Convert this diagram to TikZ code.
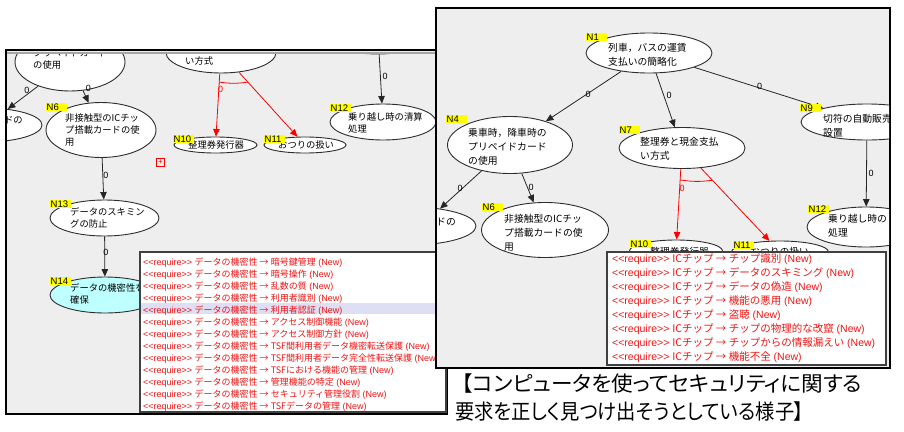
\documentclass[tikz,border=0pt]{standalone}
\usepackage{fontspec}
\setmainfont{Noto Sans CJK JP}
\newfontfamily\jp{Noto Sans CJK JP}
\newfontfamily\jpp{Noto Sans CJK JP}[RawFeature=+palt]
\newfontfamily\lat{Liberation Sans}
\usetikzlibrary{shapes.geometric,arrows.meta,calc}
\definecolor{panelbg}{RGB}{238,238,238}
\definecolor{reqred}{RGB}{240,20,20}
\definecolor{hilite}{RGB}{222,222,245}
\definecolor{cyanfill}{RGB}{190,255,255}
\definecolor{ylw}{RGB}{255,255,0}
\definecolor{edgegray}{RGB}{45,45,45}
\newcommand\reqtag{<{}<require>{}>}
\newcommand\lrowtext[1]{\reqtag{} {\jp データの機密性 → #1} (New)}
\newcommand\rrowtext[1]{\reqtag{} {\jp ICチップ → #1} (New)}
\tikzset{
 nd/.style={ellipse, draw=edgegray, line width=0.9pt, fill=white, inner sep=0pt},
 ntxtL/.style={anchor=west, align=left, inner sep=0pt, font=\fontsize{9.3}{12}\jp},
 ntxtR/.style={anchor=west, align=left, inner sep=0pt, font=\fontsize{9.8}{14}\jp},
 ylab/.style={anchor=north west, fill=ylw, inner xsep=0.5pt, inner ysep=0pt, text width=20pt, align=left, text height=7pt, text depth=0.8pt, font=\fontsize{9.5}{9.5}\lat},
 edge/.style={draw=black!85, line width=0.8pt, -{Triangle[length=7.5pt,width=6.5pt]}},
 redge/.style={draw=red, line width=0.8pt, -{Triangle[length=7.5pt,width=6.5pt]}},
 zl/.style={font=\fontsize{9}{9}\lat, inner sep=0pt},
 lrow/.style={anchor=base west, inner sep=0pt, text=reqred, font=\fontsize{9}{12}\lat},
 rrow/.style={anchor=base west, inner sep=0pt, text=reqred, font=\fontsize{10.5}{14}\lat},
 panel/.style={draw=black, line width=1.2pt, fill=panelbg},
 listbox/.style={draw=black!75, line width=1.2pt, fill=white},
 captxt/.style={anchor=base west, inner sep=0pt, font=\fontsize{21}{21}\jpp},
}
\begin{document}
\begin{tikzpicture}[x=1pt,y=-1pt]
\useasboundingbox[fill=white] (0,0) rectangle (904,431);

% ================= LEFT PANEL =================
\path[panel] (6,50) rectangle (447,414);
\begin{scope}
\clip (7,54) rectangle (446,413);
\node[nd, minimum width=110pt, minimum height=58pt] (l4) at (70,62) {};
\node[ntxtL] (tl4) at (33,53) {乗車時，降車時の\\プリペイドカード\\の使用};
\node[nd, minimum width=110pt, minimum height=40pt] (lt) at (378,34) {};
\node[nd, minimum width=110pt, minimum height=41pt] (l7) at (221,52.5) {};
\node[ntxtL] (tl7) at (185,55) {整理券と現金支払\\い方式};
\node[nd, minimum width=114pt, minimum height=34pt] (l5) at (-15,125) {};
\node[ntxtL, anchor=east] (tl5) at (23,120) {ドの};
\node[nd, minimum width=110pt, minimum height=55pt] (l6) at (101,130) {};
\node[ntxtL] (tl6) at (65,130) {非接触型のICチッ\\プ搭載カードの使\\用};
\node[nd, minimum width=83pt, minimum height=16pt] (l10) at (215.5,145) {};
\node[ntxtL] (tl10) at (188,145) {整理券発行器};
\node[nd, minimum width=82pt, minimum height=16pt] (l11) at (305,145) {};
\node[ntxtL] (tl11) at (278,145) {おつりの扱い};
\node[nd, minimum width=106pt, minimum height=36pt] (l12) at (383,122) {};
\node[ntxtL] (tl12) at (348,123) {乗り越し時の清算\\処理};
\node[nd, minimum width=109pt, minimum height=36pt] (l13) at (104.5,218) {};
\node[ntxtL] (tl13) at (70,217.5) {データのスキミン\\グの防止};
\node[nd, fill=cyanfill, minimum width=110pt, minimum height=36pt] (l14) at (105,295) {};
\node[ntxtL] (tl14) at (70,294) {データの機密性を\\確保};
% edges
\draw[edge] (l4) -- (l5.35);
\draw[edge] (l4) -- (l6);
\draw[edge] (lt) -- (l12);
\draw[redge] (l7) -- (l10);
\draw[redge] (l7) -- (l11);
\draw[red, line width=0.8pt] ($(l7)!0.32!(l10)$) to[bend right=8] ($(l7)!0.32!(l11)$);
\draw[edge] (l6) -- (l13);
\draw[edge] (l13) -- (l14);
% edge labels
\node[zl] (zl1) at (27,90) {0};
\node[zl] (zl2) at (88.5,88.5) {0};
\node[zl] (zl3) at (385,76) {0};
\node[zl, text=red] (zl4) at (220.5,89.5) {0};
\node[zl] (zl5) at (106,175) {0};
\node[zl] (zl6) at (106,252) {0};
% yellow labels
\node[ylab] (yl6) at (46,103) {N6};
\node[ylab] (yl10) at (173,135) {N10};
\node[ylab] (yl11) at (264,135) {N11};
\node[ylab] (yl12) at (330,104) {N12};
\node[ylab] (yl13) at (50,200) {N13};
\node[ylab] (yl14) at (50,277) {N14};
\node[draw=red, line width=0.6pt, minimum size=8pt, inner sep=0pt, text=red, font=\fontsize{8}{8}\lat] (plus) at (160.5,162.5) {+};
\end{scope}
\draw[gray!70, line width=1.5pt] (7,53) -- (446,53);
% left list
\path[listbox] (140,252) rectangle (446,412);
\fill[hilite] (141,303) rectangle (445,314);
\begin{scope}
\clip (141,253) rectangle (445,411);
\foreach \t [count=\i] in {暗号鍵管理,暗号操作,乱数の質,利用者識別,利用者認証,アクセス制御機能,アクセス制御方針,TSF間利用者データ機密転送保護,TSF間利用者データ完全性転送保護,TSFにおける機能の管理,管理機能の特定,セキュリティ管理役割,TSFデータの管理}
  \node[lrow] (lr\i) at (143,{265.4+12*(\i-1)}) {\lrowtext{\t}};
\end{scope}

% ================= RIGHT PANEL =================
\path[panel] (436,8) rectangle (890,368);
\begin{scope}
\clip (437,9.5) rectangle (889,367);
\node[nd, minimum width=126pt, minimum height=40pt] (n1) at (649,53) {};
\node[ntxtR] (tn1) at (608,54.5) {列車，バスの運賃\\支払いの簡略化};
\node[nd, minimum width=125pt, minimum height=57pt] (n4) at (510,145) {};
\node[ntxtR] (tn4) at (468,146.5) {乗車時，降車時の\\プリペイドカード\\の使用};
\node[nd, minimum width=132pt, minimum height=38pt] (n5) at (410,226) {};
\node[ntxtR, anchor=east] (tn5) at (456,222) {ドの};
\node[nd, minimum width=127pt, minimum height=55pt] (n6) at (545,230) {};
\node[ntxtR] (tn6) at (504,233) {非接触型のICチッ\\プ搭載カードの使\\用};
\node[nd, minimum width=126pt, minimum height=41pt] (n7) at (682,148) {};
\node[ntxtR] (tn7) at (640,148.5) {整理券と現金支払\\い方式};
\node[nd, minimum width=132pt, minimum height=36pt] (n9) at (867,122) {};
\node[ntxtR] (tn9) at (823,125.5) {切符の自動販売機\\設置};
\node[nd, minimum width=118pt, minimum height=40pt] (n12) at (866,227) {};
\node[ntxtR] (tn12) at (828,226) {乗り越し時の\\処理};
\node[nd, minimum width=93pt, minimum height=22pt] (n10) at (676,251) {};
\node[ntxtR] (tn10) at (650,252) {整理券発行器};
\node[nd, minimum width=97pt, minimum height=22pt] (n11) at (780,252) {};
\node[ntxtR] (tn11) at (750,252) {おつりの扱い};
% edges
\draw[edge] (n1) -- (n4);
\draw[edge] (n1) -- (n7);
\draw[edge] (n1) -- (n9);
\draw[edge] (n4) -- (n5.30);
\draw[edge] (n4) -- (n6);
\draw[edge] (n9) -- (n12);
\draw[redge] (n7) -- (n10);
\draw[redge] (n7) -- (n11);
\draw[red, line width=0.8pt] ($(n7)!0.31!(n10)$) to[bend right=8] ($(n7)!0.31!(n11)$);
% edge labels
\node[zl] (zr1) at (588,94) {0};
\node[zl] (zr2) at (669,95.5) {0};
\node[zl] (zr3) at (759.5,86.5) {0};
\node[zl] (zr4) at (460,188.5) {0};
\node[zl] (zr5) at (531,187) {0};
\node[zl] (zr6) at (871,173) {0};
\node[zl, text=red] (zr7) at (682,188) {0};
% yellow labels
\node[ylab] (yn1) at (586,33) {N1};
\node[ylab] (yn4) at (446,115) {N4};
\node[ylab] (yn6) at (482,203) {N6};
\node[ylab] (yn7) at (619,126) {N7};
\node[ylab] (yn9) at (800,104) {N9};
\node[ylab] (yn12) at (808,205) {N12};
\node[ylab] (yn10) at (630,240) {N10};
\node[ylab] (yn11) at (733,241) {N11};
% right list
\path[listbox] (607,252) rectangle (886,365);
\foreach \t [count=\i] in {チップ識別,データのスキミング,データの偽造,機能の悪用,盗聴,チップの物理的な改竄,チップからの情報漏えい,機能不全}
  \node[rrow] (rr\i) at (612,{262.8+14*(\i-1)}) {\rrowtext{\t}};
\end{scope}

% ================= CAPTION =================
\node[captxt, xscale=1.03, transform shape] (cap1) at (462,391) {【コンピュータを使ってセキュリティに関する};
\node[captxt, xscale=0.92, transform shape] (cap2) at (455,419) {要求を正しく見つけ出そうとしている様子】};
\end{tikzpicture}
\end{document}
